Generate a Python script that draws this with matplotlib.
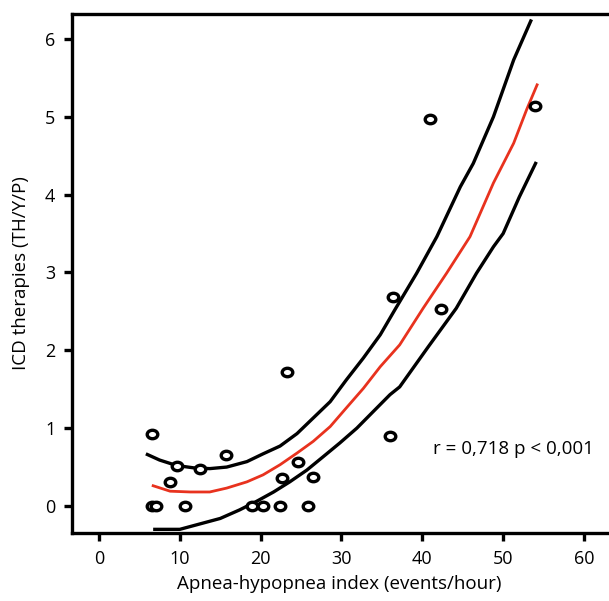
import numpy as np
import matplotlib
matplotlib.use("Agg")
import matplotlib.pyplot as plt
from matplotlib.path import Path
from matplotlib.transforms import Affine2D

plt.rcParams['font.family'] = ['Open Sans', 'DejaVu Sans']

# observed points (AHI, ICD therapies)
ahi = [6.5, 6.6, 7.1, 8.8, 9.7, 10.6, 12.5, 15.7, 18.9, 20.3, 22.4, 22.6,
       23.2, 24.6, 25.9, 26.5, 36.0, 36.4, 40.9, 42.3, 53.9]
icd = [0.92, 0.0, 0.0, 0.31, 0.51, 0.0, 0.47, 0.65, 0.0, 0.0, 0.0, 0.36,
       1.72, 0.56, 0.0, 0.37, 0.90, 2.68, 4.97, 2.53, 5.14]

# fitted curve (red)
fit_x = [6.7, 8.8, 11.3, 13.7, 15.8, 18.3, 20.3, 22.4, 24.5, 26.5, 28.6,
         30.6, 32.7, 34.8, 37.2, 40.1, 43.0, 45.9, 48.8, 51.3, 52.9, 54.2]
fit_y = [0.26, 0.19, 0.18, 0.18, 0.23, 0.31, 0.40, 0.53, 0.68, 0.83, 1.02,
         1.26, 1.51, 1.79, 2.07, 2.54, 2.99, 3.46, 4.15, 4.66, 5.09, 5.41]

# upper confidence band
up_x = [5.8, 7.5, 9.6, 11.7, 13.7, 15.8, 18.3, 20.3, 22.4, 24.5, 26.5, 28.6,
        30.6, 32.7, 34.8, 36.6, 39.3, 41.8, 44.7, 46.3, 48.8, 51.3, 53.5]
up_y = [0.67, 0.59, 0.52, 0.49, 0.48, 0.50, 0.57, 0.67, 0.77, 0.93, 1.13, 1.34,
        1.62, 1.90, 2.20, 2.52, 2.99, 3.46, 4.10, 4.40, 5.00, 5.73, 6.25]

# lower confidence band
lo_x = [6.7, 10.0, 12.5, 15.0, 17.4, 19.5, 21.6, 23.6, 25.7, 27.7, 29.8,
        31.9, 33.9, 36.0, 37.2, 40.7, 44.2, 46.7, 48.8, 50.0, 52.0, 54.1]
lo_y = [-0.30, -0.30, -0.23, -0.16, -0.05, 0.06, 0.18, 0.31, 0.46, 0.63, 0.81,
        1.00, 1.21, 1.43, 1.53, 2.04, 2.54, 2.99, 3.33, 3.50, 3.97, 4.42]

fig = plt.figure(figsize=(6.09, 6.01), dpi=100)
W, H = 609, 601
ax = fig.add_axes([72 / W, 68 / H, (625 - 72) / W, (533 - 14) / H])

ax.plot(up_x, up_y, color='black', lw=2.4, solid_capstyle='butt')
ax.plot(lo_x, lo_y, color='black', lw=2.4, solid_capstyle='butt')
ax.plot(fit_x, fit_y, color='#e8321e', lw=2.0)

ell = Path.unit_circle().transformed(Affine2D().scale(1.25, 1.0))
ax.scatter(ahi, icd, marker=ell, s=58, facecolors='white', edgecolors='black',
           linewidths=2.4, zorder=3)

ax.text(41.3, 0.73, 'r = 0,718 p < 0,001', fontsize=13.5, va='center', ha='left')

ax.set_xlim(-3.34, (625 - 99) / 8.083)
ax.set_ylim(-0.347, 6.32)
ax.set_xticks([0, 10, 20, 30, 40, 50, 60])
ax.set_yticks([0, 1, 2, 3, 4, 5, 6])
ax.tick_params(direction='out', length=6, width=2.4, labelsize=13, pad=6)

for side in ['left', 'bottom', 'top']:
    ax.spines[side].set_linewidth(2.4)
ax.spines['right'].set_visible(False)

ax.set_xlabel('Apnea-hypopnea index (events/hour)', fontsize=13.5)
ax.set_ylabel('ICD therapies (TH/Y/P)', fontsize=13.5, labelpad=11)
ax.xaxis.set_label_coords(0.483, -0.08)

fig.savefig('out.png', dpi=100)
